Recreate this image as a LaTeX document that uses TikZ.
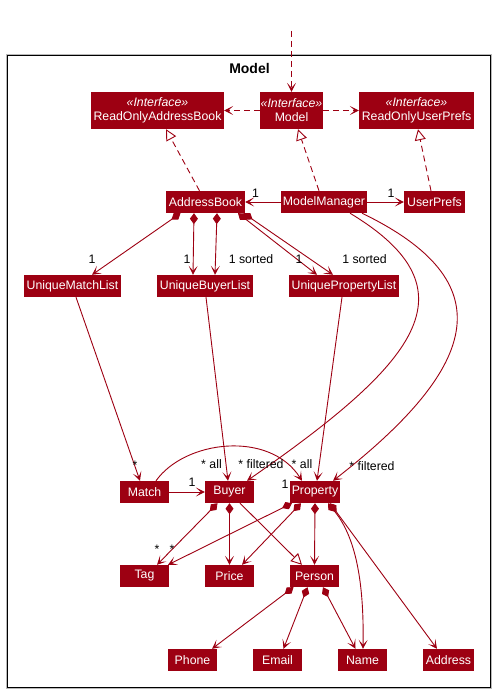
\documentclass[tikz,border=0pt]{standalone}
\usepackage{fontspec}
\setmainfont{Liberation Sans}
\usetikzlibrary{arrows.meta,calc}
\definecolor{mred}{HTML}{9D0012}

\begin{document}
\begin{tikzpicture}[x=1pt,y=-1pt,
  cls/.style={fill=mred,text=white,font=\fontsize{12.3}{14}\selectfont,minimum width=49pt,minimum height=22pt,inner sep=0pt},
  iface/.style={cls,align=center,minimum height=37pt},
  lbl/.style={font=\fontsize{12.3}{14}\selectfont,inner sep=0pt},
  wire/.style={mred,line width=0.9pt},
  arr/.style={wire,-{Stealth[length=9pt,width=9pt,inset=5pt]}},
  dep/.style={arr,dash pattern=on 6pt off 4pt},
  real/.style={wire,dash pattern=on 6pt off 4pt,-{Triangle[open,fill=white,length=11pt,width=11pt]}},
  ext/.style={wire,-{Triangle[open,fill=white,length=11pt,width=11pt]}},
  comp/.style={wire,{Diamond[length=11pt,width=8pt]}-{Stealth[length=9pt,width=9pt,inset=5pt]}}]
\useasboundingbox (0,0) rectangle (495,693);
% package frame
\draw[gray!55,line width=1pt] (6.5,54.5) rectangle (491.5,688.5);
\draw[line width=1pt] (7.5,55.5) rectangle (490.5,687.5);
\node[font=\fontsize{14}{16}\selectfont\bfseries] (title) at (249.5,68) {Model};

% interfaces
\node[iface,minimum width=133pt] (roab) at (157.5,110.5) {\textit{«Interface»}\\ReadOnlyAddressBook};
\node[iface,minimum width=63pt] (model) at (291.5,110.5) {\textit{«Interface»}\\Model};
\node[iface,minimum width=115pt] (roup) at (416.5,110.5) {\textit{«Interface»}\\ReadOnlyUserPrefs};

% classes
\node[cls,minimum width=79pt] (ab) at (205.5,202) {AddressBook};
\node[cls,minimum width=86pt] (mm) at (324,202) {ModelManager};
\node[cls,minimum width=61pt] (up) at (434.5,202) {UserPrefs};
\node[cls,minimum width=97pt] (uml) at (72.5,286) {UniqueMatchList};
\node[cls,minimum width=96pt] (ubl) at (205,286) {UniqueBuyerList};
\node[cls,minimum width=110pt] (upl) at (344,286) {UniquePropertyList};
\node[cls] (match) at (144.5,492) {Match};
\node[cls] (buyer) at (229.5,492) {Buyer};
\node[cls,minimum width=50pt] (prop) at (315,492) {Property};
\node[cls] (tag) at (144.5,576) {Tag};
\node[cls] (price) at (229.5,576) {Price};
\node[cls] (person) at (314.5,576) {Person};
\node[cls] (phone) at (192.5,660) {Phone};
\node[cls] (email) at (277.5,660) {Email};
\node[cls] (name) at (362.5,660) {Name};
\node[cls,minimum width=51pt] (addr) at (448.5,660) {Address};

% top level
\coordinate (outside) at (291.5,31);
\draw[dep] (outside) -- (model);
\draw[dep] (model) -- (roab);
\draw[dep] (model) -- (roup);
\draw[real] ([xshift=-6pt]ab.north) -- ([xshift=8.5pt]roab.south);
\draw[real] ([xshift=-5pt]mm.north) -- ([xshift=6.5pt]model.south);
\draw[real] ([xshift=-3.5pt]up.north) -- ([xshift=1.5pt]roup.south);
\draw[arr] (mm) -- (ab);
\draw[arr] (mm) -- (up);

% address book contents
\draw[comp] ([xshift=-25pt]ab.south) -- ([xshift=19.5pt]uml.north);
\draw[comp] ([xshift=-11.5pt]ab.south) -- ([xshift=-12pt]ubl.north);
\draw[comp] ([xshift=11.5pt]ab.south) -- ([xshift=10pt]ubl.north);
\draw[comp] ([xshift=32.5pt]ab.south) -- ([xshift=-27pt]upl.north);
\draw[comp] ([xshift=38pt]ab.south) -- ([xshift=-11pt]upl.north);

% filtered lists
\draw[arr] ([xshift=26pt]mm.south) .. controls (479,291) and (415,364) .. ([xshift=17.5pt]buyer.north);
\draw[arr] ([xshift=38pt]mm.south) .. controls (502,281) and (483,364) .. ([xshift=18pt]prop.north);

% lists to elements
\draw[arr] ([xshift=3.5pt]uml.south) -- ([xshift=-4.5pt]match.north);
\draw[arr] ([xshift=1pt]ubl.south) -- ([xshift=-1.5pt]buyer.north);
\draw[arr] ([xshift=-2pt]upl.south) -- ([xshift=2pt]prop.north);
\draw[arr] (match) -- (buyer);
\draw[arr] ([xshift=11.5pt]match.north) .. controls (185,440) and (270,430) .. ([xshift=-13pt]prop.north);

% buyer
\draw[comp] ([xshift=-12pt]buyer.south) -- ([xshift=12.5pt]tag.north);
\draw[comp] (buyer.south) -- (price.north);
\draw[ext] ([xshift=10.5pt]buyer.south) -- ([xshift=-12.5pt]person.north);

% property
\draw[comp] ([xshift=-23pt]prop.south) -- ([xshift=23.5pt]tag.north);
\draw[comp] ([xshift=-14pt]prop.south) -- ([xshift=12.5pt]price.north);
\draw[comp] (prop.south) -- (person.north);
\draw[comp] ([xshift=13pt]prop.south) .. controls (358,540) and (364,590) .. ([xshift=0.5pt]name.north);
\draw[comp] ([xshift=15pt]prop.south) -- ([xshift=-11.5pt]addr.north);

% person
\draw[comp] ([xshift=-21pt]person.south) -- ([xshift=19.5pt]phone.north);
\draw[comp] ([xshift=-7pt]person.south) -- ([xshift=6pt]email.north);
\draw[comp] ([xshift=8.5pt]person.south) -- ([xshift=-7pt]name.north);

% multiplicities
\node[lbl] (l1) at (255.5,193) {1};
\node[lbl] (l2) at (391,193) {1};
\node[lbl] (l3) at (92,259) {1};
\node[lbl] (l4) at (187,259) {1};
\node[lbl] (l5) at (251,259) {1 sorted};
\node[lbl] (l6) at (299,259) {1};
\node[lbl] (l7) at (364.5,259) {1 sorted};
\node[lbl] (l8) at (135,465) {*};
\node[lbl] (l9) at (211.5,464) {* all};
\node[lbl] (l10) at (261,464) {* filtered};
\node[lbl] (l11) at (302,464) {* all};
\node[lbl] (l12) at (372,466) {* filtered};
\node[lbl] (l13) at (192,482) {1};
\node[lbl] (l14) at (285,484) {1};
\node[lbl] (l15) at (157,549) {*};
\node[lbl] (l16) at (172,549) {*};
\end{tikzpicture}
\end{document}
